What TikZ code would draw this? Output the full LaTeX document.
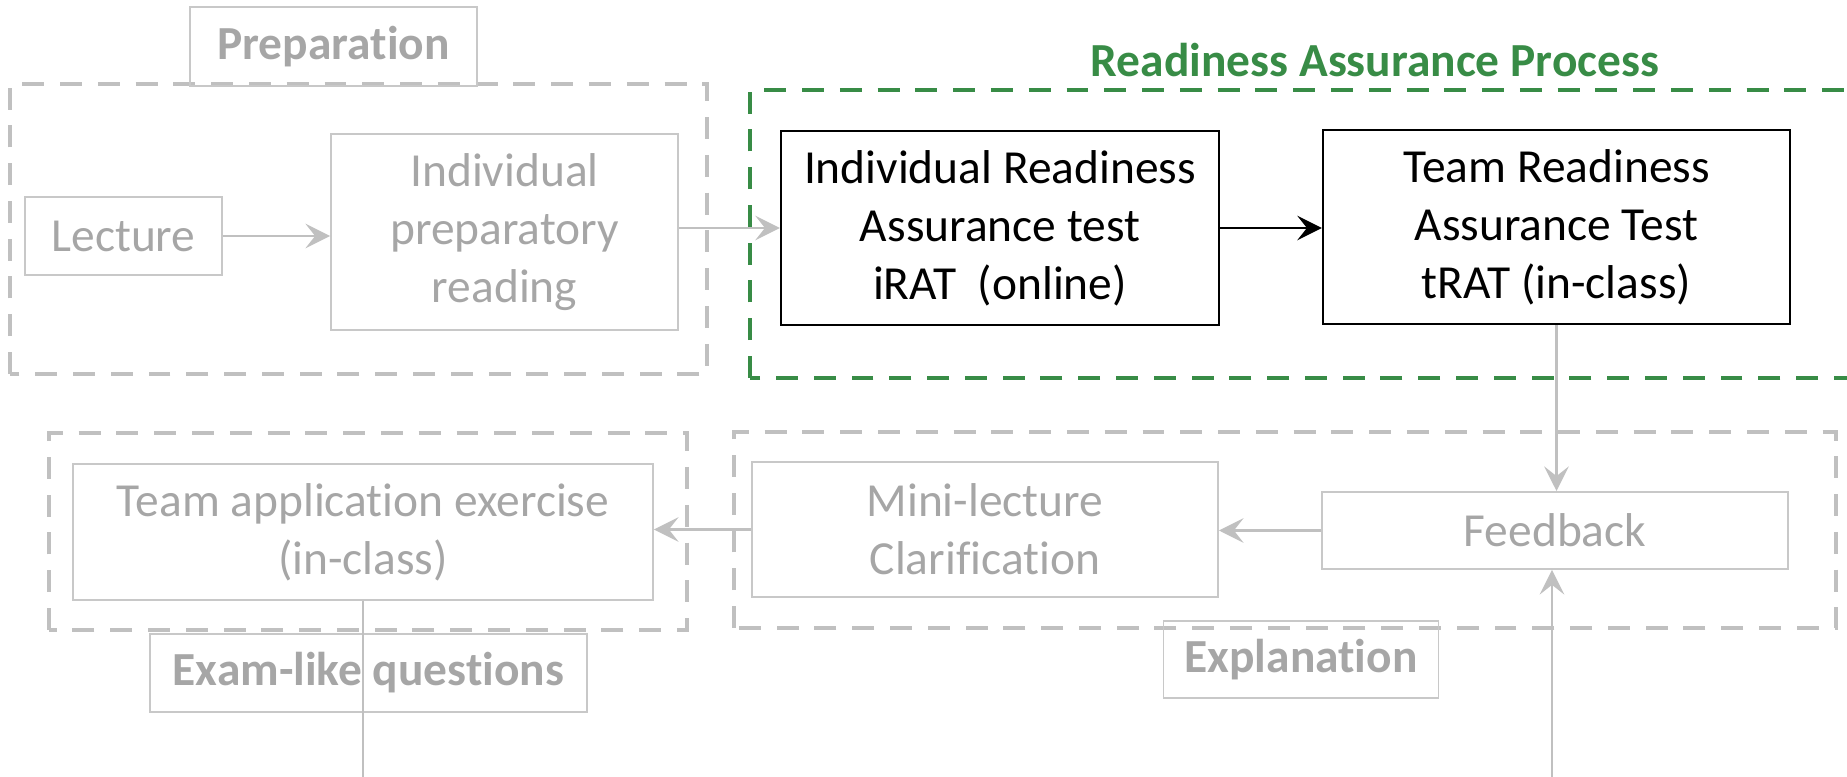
\documentclass[tikz,border=0pt]{standalone}
\usepackage{fontspec}
\setmainfont{Carlito}[Ligatures={NoCommon}]
\usepackage{tikz}
\usetikzlibrary{arrows.meta, positioning, calc}
\definecolor{fadegray}{RGB}{166, 166, 166}
\definecolor{boxgray}{RGB}{200, 200, 200}
\definecolor{dashgray}{RGB}{192, 192, 192}
\definecolor{rapgreen}{RGB}{56, 140, 70}

\begin{document}
\begin{tikzpicture}[
    every node/.style={font=\fontsize{27}{33}\selectfont},
    stage/.style={draw=boxgray, line width=1.1pt, text=fadegray, align=center, inner sep=0pt},
    active/.style={draw=black, line width=1.3pt, text=black, align=center, inner sep=0pt},
    tag/.style={draw=boxgray, line width=1.1pt, text=fadegray, inner sep=0pt,
                font=\fontsize{27}{33}\selectfont\bfseries},
    frame/.style={line width=2.7pt, dash pattern=on 12.5pt off 9pt},
    flow/.style={draw=dashgray, line width=1.2pt, -{Stealth[length=14pt, width=14pt, inset=5.5pt]}},
]
  \useasboundingbox (0,0) rectangle (36.94,15.54);

  % Frames
  \draw[frame, dashgray] (0.20,8.06) rectangle (14.14,13.86);
  \draw[frame, rapgreen] (15.00,7.98) rectangle (37.30,13.74);
  \draw[frame, dashgray] (0.98,2.94) rectangle (13.74,6.88);
  \draw[frame, dashgray] (14.68,2.98) rectangle (36.72,6.90);

  % Preparation
  \node[tag, minimum width=5.74cm, minimum height=1.58cm] (prep) at (6.67,14.61) {Preparation};
  \node[stage, minimum width=3.94cm, minimum height=1.56cm] (lecture) at (2.47,10.82) {Lecture};
  \node[stage, minimum width=6.94cm, minimum height=3.92cm] (reading) at (10.09,10.90)
    {Individual\\preparatory\\reading};

  % Readiness Assurance Process
  \node[text=rapgreen, font=\fontsize{27}{33}\selectfont\bfseries] (rap) at (27.50,14.34)
    {Readiness Assurance Process};
  \node[active, minimum width=8.76cm, minimum height=3.88cm] (irat) at (20.00,10.98)
    {Individual Readiness\\Assurance test\\iRAT~~(online)};
  \node[active, minimum width=9.34cm, minimum height=3.88cm] (trat) at (31.13,11.00)
    {Team Readiness\\Assurance Test\\tRAT (in-class)};

  % Explanation
  \node[stage, minimum width=9.32cm, minimum height=1.54cm] (feedback) at (31.10,4.93) {Feedback};
  \node[stage, minimum width=9.32cm, minimum height=2.70cm] (mini) at (19.70,4.95)
    {Mini-lecture\\Clarification};
  \node[tag, minimum width=5.50cm, minimum height=1.54cm] (expl) at (26.02,2.35) {Explanation};

  % Application
  \node[stage, minimum width=11.60cm, minimum height=2.72cm] (teamapp) at (7.26,4.90)
    {Team application exercise\\(in-class)};
  \node[tag, minimum width=8.74cm, minimum height=1.56cm] (exam) at (7.37,2.08) {Exam-like questions};

  \coordinate (fbin) at (31.04,0);
  \coordinate (appout) at (7.26,0);

  % Connectors
  \draw[flow] (lecture.east) -- (lecture.east -| reading.west);
  \draw[flow] (reading.east |- irat.west) -- (irat.west);
  \draw[line width=1.6pt, -{Stealth[length=14pt, width=14pt, inset=5.5pt]}] (irat.east) -- (irat.east -| trat.west);
  \draw[flow] (trat.south) -- (trat.south |- feedback.north);
  \draw[flow] (fbin) -- (fbin |- feedback.south);
  \draw[flow] (feedback.west) -- (feedback.west -| mini.east);
  \draw[flow] (mini.west) -- (mini.west -| teamapp.east);
  \draw[draw=dashgray, line width=1.2pt] (teamapp.south) -- (appout);
\end{tikzpicture}
\end{document}
